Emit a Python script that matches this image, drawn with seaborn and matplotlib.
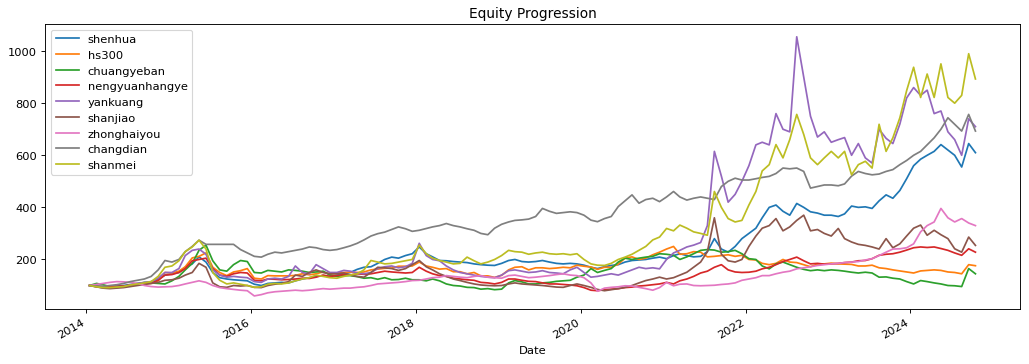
import pandas as pd
import seaborn as sns
import matplotlib
matplotlib.use("Agg")
import matplotlib.pyplot as plt
import matplotlib.dates as mdates

# monthly readings, Jan 2014 .. Oct 2024 (one row per year)
dates = pd.date_range("2014-01-01", periods=130, freq="MS") + pd.Timedelta(days=14)

shenhua = [
    100, 97, 95, 96, 98, 100, 104, 108, 110, 114, 125, 140,
    145, 150, 170, 183, 210, 190, 150, 130, 125, 122, 120, 118,
    105, 100, 108, 110, 112, 110, 118, 125, 130, 135, 138, 135,
    140, 145, 150, 162, 170, 172, 185, 200, 209, 205, 215, 222,
    248, 222, 210, 196, 195, 192, 190, 188, 183, 180, 178, 177,
    185, 196, 200, 192, 190, 192, 196, 190, 185, 183, 185, 183,
    178, 170, 165, 172, 177, 180, 190, 196, 198, 200, 205, 209,
    203, 215, 222, 215, 210, 212, 230, 280, 240, 228, 250, 280,
    300, 320, 360, 400, 409, 385, 370, 415, 400, 383, 378, 370,
    370, 365, 375, 405, 400, 402, 396, 425, 448, 435, 465, 510,
    560, 585, 600, 615, 641, 620, 600, 555, 645, 610,
]
hs300 = [
    100, 96, 94, 95, 94, 95, 100, 104, 106, 108, 118, 150,
    148, 155, 172, 206, 212, 225, 170, 150, 138, 152, 157, 165,
    128, 125, 138, 137, 137, 137, 139, 145, 141, 145, 152, 144,
    147, 150, 151, 150, 152, 160, 163, 166, 167, 174, 174, 175,
    190, 175, 170, 163, 165, 153, 153, 145, 150, 137, 137, 131,
    139, 160, 170, 172, 160, 168, 168, 165, 167, 170, 168, 178,
    174, 171, 162, 170, 170, 182, 205, 210, 200, 205, 218, 228,
    240, 250, 220, 222, 230, 228, 210, 212, 215, 218, 212, 216,
    200, 198, 185, 180, 185, 200, 190, 188, 180, 172, 182, 183,
    186, 183, 182, 181, 175, 175, 178, 168, 165, 160, 156, 152,
    148, 156, 158, 160, 158, 152, 150, 145, 180, 176,
]
chuangyeban = [
    100, 108, 103, 96, 94, 96, 100, 106, 112, 110, 108, 106,
    118, 135, 160, 185, 235, 255, 195, 160, 155, 180, 196, 192,
    150, 148, 158, 155, 152, 160, 158, 155, 150, 152, 155, 140,
    135, 138, 138, 134, 128, 130, 124, 130, 122, 123, 128, 122,
    122, 118, 125, 118, 106, 100, 98, 93, 92, 86, 88, 84,
    86, 110, 119, 114, 106, 106, 110, 112, 116, 118, 120, 132,
    140, 165, 150, 158, 165, 190, 205, 200, 205, 209, 212, 222,
    220, 216, 200, 210, 222, 235, 238, 236, 228, 230, 235, 222,
    203, 200, 175, 164, 183, 190, 180, 170, 162, 157, 160, 157,
    160, 158, 155, 151, 148, 151, 148, 132, 133, 128, 125, 115,
    106, 119, 115, 110, 106, 100, 99, 96, 165, 145,
]
nengyuanhangye = [
    100, 97, 95, 96, 97, 98, 102, 106, 108, 110, 120, 140,
    142, 150, 165, 195, 200, 205, 165, 140, 135, 145, 150, 148,
    120, 118, 125, 124, 122, 123, 125, 128, 127, 132, 140, 135,
    138, 142, 140, 145, 143, 145, 150, 155, 152, 150, 148, 150,
    170, 155, 145, 138, 135, 128, 125, 122, 120, 112, 110, 106,
    112, 125, 125, 120, 116, 115, 110, 106, 106, 104, 102, 99,
    92, 82, 80, 84, 86, 88, 92, 94, 98, 100, 103, 106,
    112, 106, 118, 125, 135, 148, 155, 170, 180, 160, 152, 150,
    151, 155, 164, 170, 180, 192, 200, 209, 195, 183, 185, 182,
    183, 185, 188, 190, 195, 196, 203, 216, 220, 222, 228, 236,
    245, 248, 246, 248, 242, 235, 225, 216, 241, 228,
]
yankuang = [
    100, 95, 92, 90, 92, 95, 102, 108, 112, 115, 128, 150,
    150, 165, 215, 235, 240, 220, 160, 140, 132, 135, 132, 130,
    115, 112, 125, 128, 125, 135, 175, 150, 145, 180, 165, 150,
    150, 158, 155, 148, 145, 150, 165, 172, 175, 168, 172, 185,
    262, 215, 200, 195, 175, 160, 150, 145, 140, 135, 132, 130,
    140, 157, 160, 155, 150, 152, 157, 150, 148, 145, 160, 170,
    150, 132, 135, 140, 145, 140, 150, 160, 170, 165, 168, 164,
    200, 225, 235, 248, 255, 265, 330, 615, 520, 420, 450, 500,
    560, 640, 650, 640, 760, 700, 690, 1055, 900, 750, 670, 690,
    650, 660, 668, 600, 645, 590, 570, 700, 665, 645, 720, 820,
    860, 830, 850, 760, 770, 690, 660, 600, 740, 710,
]
shanjiao = [
    100, 95, 90, 88, 90, 92, 96, 100, 104, 108, 112, 120,
    122, 128, 140, 150, 185, 170, 110, 95, 93, 100, 98, 100,
    93, 92, 100, 105, 108, 115, 140, 135, 150, 160, 150, 145,
    145, 148, 140, 135, 132, 150, 170, 168, 165, 158, 165, 180,
    196, 172, 160, 145, 135, 125, 119, 112, 106, 102, 100, 99,
    100, 106, 110, 106, 104, 102, 100, 97, 94, 93, 100, 106,
    100, 93, 85, 80, 84, 88, 93, 100, 110, 119, 125, 132,
    125, 130, 140, 151, 170, 190, 230, 360, 220, 195, 190, 200,
    250, 290, 320, 330, 357, 310, 325, 350, 370, 310, 315, 300,
    290, 319, 280, 267, 258, 254, 248, 240, 280, 245, 260, 290,
    320, 332, 293, 312, 295, 280, 241, 228, 286, 254,
]
zhonghaiyou = [
    100, 104, 108, 112, 115, 114, 112, 108, 100, 96, 94, 95,
    96, 100, 106, 112, 118, 112, 100, 92, 88, 85, 82, 80,
    60, 65, 72, 76, 78, 80, 82, 80, 82, 85, 88, 86,
    88, 90, 90, 93, 95, 100, 106, 108, 110, 112, 115, 119,
    120, 125, 130, 132, 138, 135, 132, 130, 135, 138, 132, 130,
    128, 138, 140, 135, 130, 132, 135, 138, 142, 145, 140, 138,
    130, 110, 78, 90, 93, 95, 99, 98, 93, 88, 82, 92,
    112, 99, 105, 106, 100, 99, 100, 101, 104, 106, 110, 120,
    125, 130, 138, 138, 145, 151, 155, 164, 168, 172, 177, 180,
    183, 185, 188, 190, 192, 198, 203, 215, 228, 240, 241, 245,
    260, 306, 330, 344, 396, 360, 344, 357, 340, 330,
]
changdian = [
    100, 98, 97, 100, 103, 108, 115, 120, 125, 135, 160, 196,
    190, 200, 230, 250, 274, 258, 258, 258, 258, 258, 238, 225,
    212, 209, 220, 228, 225, 230, 235, 240, 248, 245, 238, 235,
    238, 245, 252, 262, 275, 290, 299, 305, 315, 325, 318, 308,
    312, 319, 325, 330, 338, 330, 325, 318, 312, 300, 295, 320,
    335, 344, 350, 352, 355, 365, 396, 385, 377, 380, 383, 380,
    370, 351, 345, 357, 365, 403, 425, 448, 416, 430, 435, 422,
    440, 461, 440, 428, 435, 440, 435, 430, 480, 500, 512, 505,
    505, 510, 515, 519, 530, 551, 548, 551, 538, 474, 480, 486,
    486, 483, 490, 520, 538, 530, 525, 528, 538, 545, 564, 580,
    600, 615, 640, 667, 700, 744, 719, 693, 757, 693,
]
shanmei = [
    100, 95, 92, 92, 94, 96, 102, 106, 110, 115, 135, 170,
    175, 195, 230, 248, 274, 240, 150, 120, 106, 110, 105, 100,
    93, 95, 105, 108, 106, 110, 118, 125, 130, 140, 135, 130,
    128, 135, 140, 145, 160, 196, 190, 183, 185, 190, 195, 200,
    255, 222, 205, 196, 190, 183, 185, 209, 195, 183, 190, 200,
    215, 235, 230, 228, 220, 225, 228, 222, 220, 222, 218, 222,
    200, 183, 178, 177, 185, 200, 209, 220, 235, 250, 275, 286,
    319, 310, 332, 320, 306, 300, 293, 461, 400, 357, 344, 350,
    409, 461, 540, 564, 641, 590, 660, 757, 680, 590, 564, 590,
    615, 590, 615, 525, 564, 577, 551, 719, 615, 667, 744, 848,
    938, 822, 912, 822, 951, 822, 800, 830, 990, 893,
]

names = ["shenhua", "hs300", "chuangyeban", "nengyuanhangye", "yankuang",
         "shanjiao", "zhonghaiyou", "changdian", "shanmei"]
series = [shenhua, hs300, chuangyeban, nengyuanhangye, yankuang,
          shanjiao, zhonghaiyou, changdian, shanmei]

wide = pd.DataFrame(dict(zip(names, series)), index=dates)
wide.index.name = "Date"
long = wide.reset_index().melt(id_vars="Date", var_name="asset", value_name="equity")

# drawn at a lower dpi so fonts and lines come out at the reference scale
fig, ax = plt.subplots(figsize=(1029 / 82.5, 365 / 82.5), dpi=82.5)
sns.lineplot(data=long, x="Date", y="equity", hue="asset", hue_order=names,
             palette="tab10", linewidth=1.5, ax=ax)

ax.set_title("Equity Progression")
ax.set_xlabel("Date")
ax.set_ylabel("")
ax.xaxis.set_major_locator(mdates.YearLocator(2))
ax.xaxis.set_major_formatter(mdates.DateFormatter("%Y"))
handles, labels = ax.get_legend_handles_labels()
ax.legend(handles, labels, loc="upper left")

fig.autofmt_xdate()
fig.subplots_adjust(left=0.044, right=0.991, top=0.932, bottom=0.151)
fig.savefig("out.png", dpi=82.5)
